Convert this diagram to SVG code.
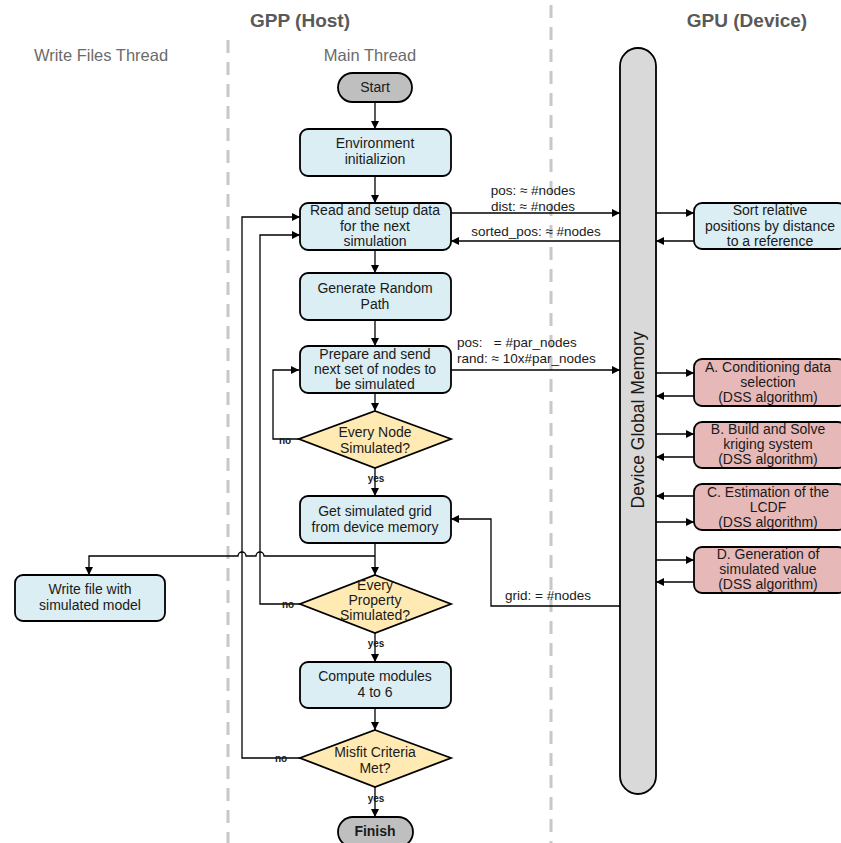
<svg xmlns="http://www.w3.org/2000/svg" width="841" height="843" viewBox="0 0 841 843">
<defs>
<marker id="ah" viewBox="0 0 10 10" refX="10" refY="5" markerWidth="8" markerHeight="8" markerUnits="userSpaceOnUse" orient="auto">
<path d="M0,0 L10,5 L0,10 z" fill="#000"/>
</marker>
<style>
text{font-family:"Liberation Sans",Arial,sans-serif;fill:#1a1a1a}
.hdr{font-size:19px;font-weight:bold;fill:#595959;text-anchor:middle}
.lane{font-size:16.5px;fill:#6b6b6b;text-anchor:middle}
.t{font-size:14px;text-anchor:middle}
.lbl{font-size:13.5px}
.sm{font-size:10px;font-weight:bold}
.box{fill:#dbeef4;stroke:#000;stroke-width:1.8}
.red{fill:#e6b9b8;stroke:#000;stroke-width:1.8}
.dia{fill:#ffeab3;stroke:#000;stroke-width:1.8}
.term{fill:#bfbfbf;stroke:#000;stroke-width:1.8}
.sep{stroke:#c8c8c8;stroke-width:3;stroke-dasharray:13 9;fill:none}
.c{fill:none;stroke:#000;stroke-width:1.3}
.a{fill:none;stroke:#000;stroke-width:1.3;marker-end:url(#ah)}
</style>
</defs>
<rect width="841" height="843" fill="#fff"/>
<g id="separators">
<line class="sep" x1="228" y1="40" x2="228" y2="843"/>
<line class="sep" x1="551" y1="5" x2="551" y2="843"/>
</g>
<g id="headers">
<text class="hdr" x="300" y="27">GPP (Host)</text>
<text class="hdr" x="747" y="27">GPU (Device)</text>
<text class="lane" x="101" y="61">Write Files Thread</text>
<text class="lane" x="370" y="61">Main Thread</text>
</g>
<g id="connectors">
<path class="a" d="M375,102 V129"/>
<path class="a" d="M375,176 V203"/>
<path class="a" d="M375,250 V273"/>
<path class="a" d="M375,320 V346"/>
<path class="a" d="M375,393 V411"/>
<path class="a" d="M375,468 V496"/>
<path class="a" d="M375,543 V575"/>
<path class="a" d="M375,633 V662"/>
<path class="a" d="M375,708 V730"/>
<path class="a" d="M375,787 V817"/>
<path class="a" d="M299,439 H273 V370 H299"/>
<path class="a" d="M300,604 H260 V235 H300"/>
<path class="a" d="M300,758 H242 V217 H300"/>
<path class="a" d="M375,556 H264 A4,4 0 0 0 256,556 H246 A4,4 0 0 0 238,556 H89 V575"/>
<path class="a" d="M451,213 H620"/>
<path class="a" d="M620,241 H451"/>
<path class="a" d="M451,370 H620"/>
<path class="a" d="M620,606 H491 V519 H451"/>
<path class="a" d="M656,213 H694"/>
<path class="a" d="M694,241 H656"/>
<path class="a" d="M656,373 H694"/>
<path class="a" d="M694,396 H656"/>
<path class="a" d="M656,434 H694"/>
<path class="a" d="M694,457 H656"/>
<path class="a" d="M694,496 H656"/>
<path class="a" d="M656,522 H694"/>
<path class="a" d="M656,560 H694"/>
<path class="a" d="M694,582 H656"/>
<text class="sm" x="285" y="444" text-anchor="middle">no</text>
<text class="sm" x="288" y="608" text-anchor="middle">no</text>
<text class="sm" x="281" y="762" text-anchor="middle">no</text>
<text class="sm" x="376" y="482" text-anchor="middle">yes</text>
<text class="sm" x="376" y="647" text-anchor="middle">yes</text>
<text class="sm" x="376" y="802" text-anchor="middle">yes</text>
<text class="lbl" x="533" y="195" text-anchor="middle">pos: ≈ #nodes</text>
<text class="lbl" x="533" y="211" text-anchor="middle">dist: ≈ #nodes</text>
<text class="lbl" x="536" y="236" text-anchor="middle">sorted_pos: ≈ #nodes</text>
<text class="lbl" x="457" y="347">pos: &#160;&#160;= #par_nodes</text>
<text class="lbl" x="457" y="363">rand: ≈ 10x#par_nodes</text>
<text class="lbl" x="548" y="600" text-anchor="middle">grid: = #nodes</text>
</g>
<g id="device-memory">
<rect x="620" y="48" width="36" height="746" rx="18" fill="#d9d9d9" stroke="#000" stroke-width="1.8"/>
<text x="0" y="0" font-size="17.5" text-anchor="middle" transform="translate(644,420) rotate(-90)">Device Global Memory</text>
</g>
<g id="start">
<rect class="term" x="338" y="73" width="74" height="29" rx="14.5"/>
<text class="t" x="375" y="92">Start</text>
</g>
<g id="env-init">
<rect class="box" x="300" y="129" width="151" height="47" rx="8"/>
<text class="t" x="375" y="148">Environment</text>
<text class="t" x="375" y="164">initializion</text>
</g>
<g id="read-setup">
<rect class="box" x="300" y="203" width="151" height="47" rx="8"/>
<text class="t" x="375" y="215">Read and setup data</text>
<text class="t" x="375" y="231">for the next</text>
<text class="t" x="375" y="246">simulation</text>
</g>
<g id="gen-path">
<rect class="box" x="300" y="273" width="151" height="47" rx="8"/>
<text class="t" x="375" y="293">Generate Random</text>
<text class="t" x="375" y="309">Path</text>
</g>
<g id="prepare">
<rect class="box" x="300" y="346" width="151" height="47" rx="8"/>
<text class="t" x="375" y="359">Prepare and send</text>
<text class="t" x="375" y="374">next set of nodes to</text>
<text class="t" x="375" y="389">be simulated</text>
</g>
<g id="every-node">
<polygon class="dia" points="375,411 451,439 375,468 299,439"/>
<text class="t" x="375" y="437">Every Node</text>
<text class="t" x="375" y="453">Simulated?</text>
</g>
<g id="get-grid">
<rect class="box" x="300" y="496" width="151" height="47" rx="8"/>
<text class="t" x="375" y="516">Get simulated grid</text>
<text class="t" x="375" y="532">from device memory</text>
</g>
<g id="write-file">
<rect class="box" x="15" y="575" width="150" height="46" rx="8"/>
<text class="t" x="90" y="594">Write file with</text>
<text class="t" x="90" y="610">simulated model</text>
</g>
<g id="every-property">
<polygon class="dia" points="375,575 451,604 375,633 300,604"/>
<text class="t" x="375" y="590" font-size="13">Every</text>
<text class="t" x="375" y="605" font-size="13">Property</text>
<text class="t" x="375" y="620" font-size="13">Simulated?</text>
</g>
<g id="compute">
<rect class="box" x="300" y="662" width="151" height="46" rx="8"/>
<text class="t" x="375" y="681">Compute modules</text>
<text class="t" x="375" y="697">4 to 6</text>
</g>
<g id="misfit">
<polygon class="dia" points="375,730 451,758 375,787 300,758"/>
<text class="t" x="375" y="757">Misfit Criteria</text>
<text class="t" x="375" y="773">Met?</text>
</g>
<g id="finish">
<rect class="term" x="338" y="817" width="75" height="30" rx="15"/>
<text class="t" x="375" y="836" font-weight="bold">Finish</text>
</g>
<g id="sort">
<rect class="box" x="694" y="203" width="152" height="46" rx="8"/>
<text class="t" x="770" y="215">Sort relative</text>
<text class="t" x="770" y="231">positions by distance</text>
<text class="t" x="770" y="246">to a reference</text>
</g>
<g id="dss-a">
<rect class="red" x="694" y="359" width="152" height="47" rx="8"/>
<text class="t" x="768" y="372">A. Conditioning data</text>
<text class="t" x="768" y="387">selection</text>
<text class="t" x="768" y="402">(DSS algorithm)</text>
</g>
<g id="dss-b">
<rect class="red" x="694" y="422" width="152" height="46" rx="8"/>
<text class="t" x="768" y="434">B. Build and Solve</text>
<text class="t" x="768" y="449">kriging system</text>
<text class="t" x="768" y="464">(DSS algorithm)</text>
</g>
<g id="dss-c">
<rect class="red" x="694" y="484" width="152" height="46" rx="8"/>
<text class="t" x="768" y="497">C. Estimation of the</text>
<text class="t" x="768" y="512">LCDF</text>
<text class="t" x="768" y="527">(DSS algorithm)</text>
</g>
<g id="dss-d">
<rect class="red" x="694" y="547" width="152" height="46" rx="8"/>
<text class="t" x="768" y="559">D. Generation of</text>
<text class="t" x="768" y="574">simulated value</text>
<text class="t" x="768" y="589">(DSS algorithm)</text>
</g>
</svg>
